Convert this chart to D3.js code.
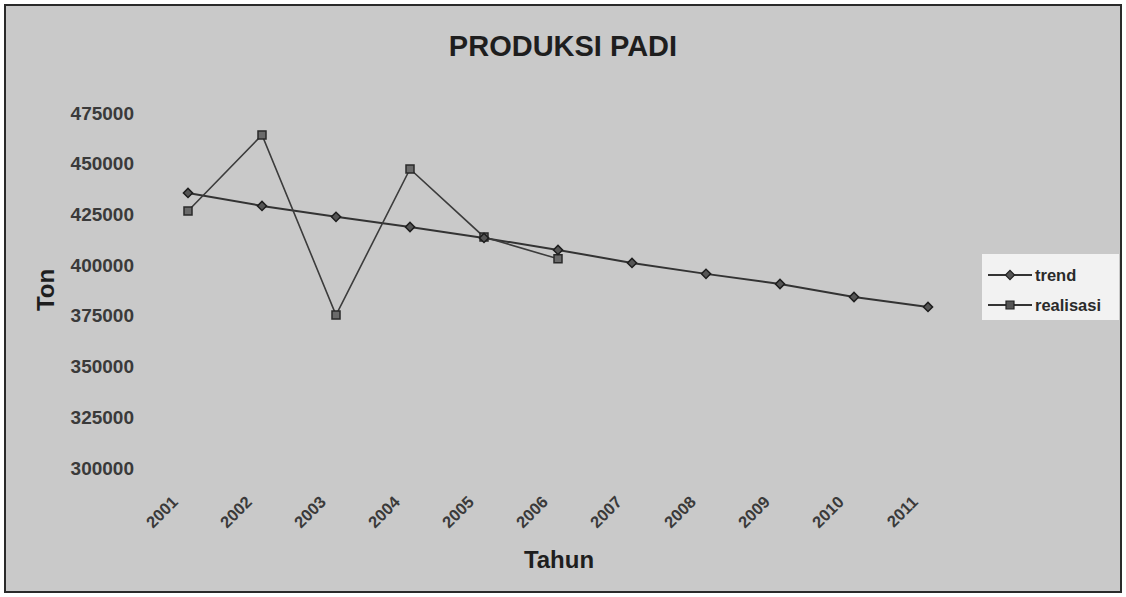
<!DOCTYPE html>
<html>
<head>
<meta charset="utf-8">
<script src="https://cdn.jsdelivr.net/npm/d3@7"></script>
<style>
  body { margin: 0; background: #fff; }
  svg text { font-family: Arial, "Liberation Sans", sans-serif; font-weight: bold; }
</style>
</head>
<body>
<div id="chart"></div>
<script>
// data
const years = ["2001", "2002", "2003", "2004", "2005", "2006", "2007", "2008", "2009", "2010", "2011"];
const trend = [435600, 429200, 423800, 418800, 413400, 407500, 401100, 395700, 390700, 384300, 379400];
const realisasi = [426700, 464200, 375400, 447400, 413900, 403100];
const yTicks = [300000, 325000, 350000, 375000, 400000, 425000, 450000, 475000];

const W = 1126, H = 597;
const plot = { left: 151, right: 965, top: 113, bottom: 468 };

const svg = d3.select("#chart").append("svg")
    .attr("width", W)
    .attr("height", H);

// grey chart area with dark frame
svg.append("rect")
    .attr("x", 5).attr("y", 5)
    .attr("width", W - 10).attr("height", H - 10)
    .attr("fill", "#c9c9c9")
    .attr("stroke", "#2a2a2a")
    .attr("stroke-width", 2);

// scales
const x = d3.scaleBand()
    .domain(years)
    .range([plot.left, plot.right]);
const xc = d => x(d) + x.bandwidth() / 2;

const y = d3.scaleLinear()
    .domain([300000, 475000])
    .range([plot.bottom, plot.top]);

// y axis
const yAxis = svg.append("g")
    .attr("transform", `translate(${plot.left},0)`)
    .call(d3.axisLeft(y).tickValues(yTicks).tickSize(0).tickPadding(17).tickFormat(d3.format("d")));
yAxis.select(".domain").remove();
yAxis.selectAll("text")
    .attr("font-size", 19)
    .attr("fill", "#3a3a3a")
    .style("font-family", "Arial, 'Liberation Sans', sans-serif");

// x axis, labels turned 45 degrees
const xAxis = svg.append("g")
    .attr("transform", `translate(0,${plot.bottom})`)
    .call(d3.axisBottom(x).tickSize(0));
xAxis.select(".domain").remove();
xAxis.selectAll("text")
    .attr("font-size", 16.5)
    .attr("fill", "#3a3a3a")
    .style("font-family", "Arial, 'Liberation Sans', sans-serif")
    .attr("text-anchor", "end")
    .attr("dy", null)
    .attr("y", 0)
    .attr("transform", "translate(-9,35) rotate(-45)");

// lines
const trendLine = d3.line().x((d, i) => xc(years[i])).y(d => y(d));

svg.append("path")
    .datum(trend)
    .attr("fill", "none")
    .attr("stroke", "#333")
    .attr("stroke-width", 2)
    .attr("d", trendLine);

svg.append("path")
    .datum(realisasi)
    .attr("fill", "none")
    .attr("stroke", "#3c3c3c")
    .attr("stroke-width", 1.6)
    .attr("d", trendLine);

// markers
const diamond = d3.symbol().type(d3.symbolSquare).size(42);
const square = d3.symbol().type(d3.symbolSquare).size(64);

svg.append("g").selectAll("path")
    .data(realisasi)
    .enter()
    .append("path")
    .attr("d", square)
    .attr("transform", (d, i) => `translate(${xc(years[i])},${y(d)})`)
    .attr("fill", "#6a6a6a")
    .attr("stroke", "#2a2a2a")
    .attr("stroke-width", 1.5);

svg.append("g").selectAll("path")
    .data(trend)
    .enter()
    .append("path")
    .attr("d", diamond)
    .attr("transform", (d, i) => `translate(${xc(years[i])},${y(d)}) rotate(45)`)
    .attr("fill", "#555")
    .attr("stroke", "#1e1e1e")
    .attr("stroke-width", 1.5);

// title and axis titles
svg.append("text")
    .attr("x", 563)
    .attr("y", 56)
    .attr("text-anchor", "middle")
    .attr("font-size", 29)
    .attr("fill", "#1e1e1e")
    .text("PRODUKSI PADI");

svg.append("text")
    .attr("x", 559)
    .attr("y", 568)
    .attr("text-anchor", "middle")
    .attr("font-size", 24)
    .attr("fill", "#1e1e1e")
    .text("Tahun");

svg.append("text")
    .attr("transform", "translate(54,290) rotate(-90)")
    .attr("text-anchor", "middle")
    .attr("font-size", 24)
    .attr("fill", "#1e1e1e")
    .text("Ton");

// legend
const legend = svg.append("g").attr("transform", "translate(982,254)");
legend.append("rect")
    .attr("width", 137).attr("height", 66)
    .attr("fill", "#f2f2f2");

const legendItems = [
    { name: "trend", sym: diamond, rot: 45, y: 21 },
    { name: "realisasi", sym: square, rot: 0, y: 51 }
];
legendItems.forEach(it => {
    legend.append("line")
        .attr("x1", 6).attr("x2", 50)
        .attr("y1", it.y).attr("y2", it.y)
        .attr("stroke", "#333").attr("stroke-width", 2);
    legend.append("path")
        .attr("d", it.sym)
        .attr("transform", `translate(28,${it.y}) rotate(${it.rot})`)
        .attr("fill", "#555").attr("stroke", "#222").attr("stroke-width", 1.2);
    legend.append("text")
        .attr("x", 53).attr("y", it.y + 6)
        .attr("font-size", 16.5)
        .attr("fill", "#2a2a2a")
        .text(it.name);
});
</script>
</body>
</html>
